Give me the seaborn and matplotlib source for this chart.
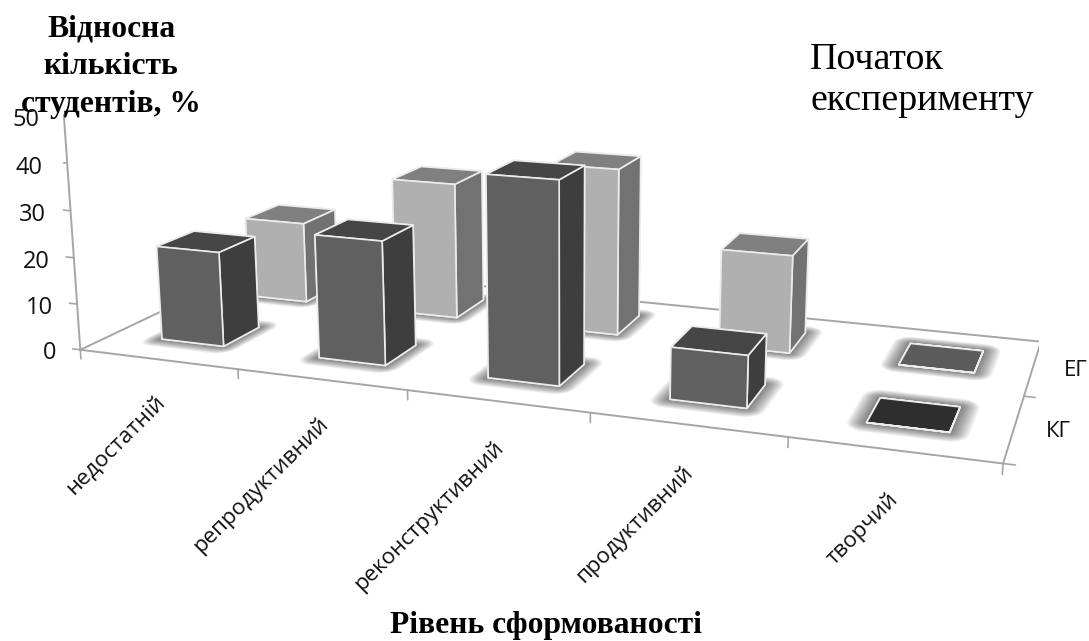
"""Рівень сформованості: bars drawn on a perspective 3D floor."""

import matplotlib
matplotlib.use("Agg")
import matplotlib.pyplot as plt
import numpy as np
import seaborn as sns
from mpl_toolkits.mplot3d import proj3d
from mpl_toolkits.mplot3d.art3d import Poly3DCollection

CATEGORIES = ["недостатній", "репродуктивний", "реконструктивний", "продуктивний", "творчий"]
KG_VALUES = [20.5, 26.2, 41.5, 10.5, 0]
EG_VALUES = [18.5, 30.5, 36.5, 21, 0]
Z_TICKS = [0, 10, 20, 30, 40, 50]

# front, side, top, empty bar
KG_COLORS = ["#606060", "#3e3e3e", "#464646", "#2e2e2e"]
EG_COLORS = ["#b0b0b0", "#727272", "#808080", "#5c5c5c"]
LINE = "#a6a6a6"
TEXT = "#111111"

sns.set_theme(style="white")
plt.rcParams["font.family"] = ["Open Sans", "DejaVu Sans"]
SERIF = ["Liberation Serif", "DejaVu Serif"]

fig = plt.figure(figsize=(10.89, 6.41), dpi=100)
ax = fig.add_axes([62.86 / 1089, -91.48 / 641, 976.49 / 1089, 976.49 / 641], projection="3d")
ax.set_xlim(0, 5)
ax.set_ylim(0, 2)
ax.set_zlim(0, 50)
ax.view_init(elev=13.652, azim=-69.96)
ax.set_proj_type("persp", focal_length=0.3225)
ax.set_box_aspect((1, 0.397, 0.2642))
ax.set_axis_off()
ax.patch.set_alpha(0)
ax.computed_zorder = False


def floor_halo(x0, y0, dx, dy, zorder):
    # soft shadow on the floor, stacked rounded outlines
    t = np.linspace(0, np.pi / 2, 8)
    for e in np.linspace(0.095, 0.004, 16):
        ex, ey = e, e * 1.4
        px = np.r_[x0 + dx + ex * np.cos(t), x0 - ex * np.sin(t), x0 - ex * np.cos(t), x0 + dx + ex * np.sin(t)]
        py = np.r_[y0 + dy + ey * np.sin(t), y0 + dy + ey * np.cos(t), y0 - ey * np.sin(t), y0 - ey * np.cos(t)]
        poly = Poly3DCollection([list(zip(px, py, np.zeros_like(px)))], facecolor="#000000",
                                edgecolor="none", alpha=0.04, zorder=zorder)
        ax.add_collection3d(poly)


def label(x, y, z, s, **kw):
    # text2D keeps its rotation, ax.text in 3D does not
    u, v, _ = proj3d.proj_transform(x, y, z, ax.get_proj())
    ax.text2D(u, v, s, transform=ax.transData, color=TEXT, zorder=9, **kw)


# floor and axis lines
ax.plot([0, 5, 5, 0, 0], [0, 0, 2, 2, 0], [0] * 5, color=LINE, lw=1.4, zorder=1)
ax.plot([0, 0], [0, 0], [0, 50], color=LINE, lw=1.4, zorder=1)
for i in range(6):
    ax.plot([i, i], [0, 0], [0, -2], color=LINE, lw=1.2, zorder=1)
for d in range(3):
    ax.plot([5, 5.055], [d, d], [0, 0], color=LINE, lw=1.2, zorder=1)
for z in Z_TICKS:
    ax.plot([0, -0.05], [0, 0], [z, z], color=LINE, lw=1.2, zorder=1)
    label(-0.16, 0, z - 1.4, str(z), ha="right", va="center", fontsize=17)

order = 3
for y_pos, vals, cols in [(1.3, EG_VALUES, EG_COLORS), (0.33, KG_VALUES, KG_COLORS)]:
    depth = 0.41 if y_pos > 1 else 0.39
    for i, v in enumerate(vals):
        floor_halo(i + 0.315, y_pos, 0.4, depth, order)
        order += 1
    for i, v in enumerate(vals):
        front, side, top, empty = cols
        if v == 0:
            top = empty
        faces = [top, top, front, front, side, side]
        ax.bar3d(i + 0.315, y_pos, 0, 0.4, depth, max(v, 0.01), color=faces, shade=False,
                 edgecolor="#ececec", linewidth=1.2, zorder=order)
        order += 1

for i, name in enumerate(CATEGORIES):
    label(i + 0.515, 0, -8.7, name, rotation=45, rotation_mode="anchor", ha="right", va="center", fontsize=16)
label(5.16, 1.5, 0, "ЕГ", ha="left", va="center", fontsize=16)
label(5.15, 0.5, 0, "КГ", ha="left", va="center", fontsize=16)

fig.text(111 / 1089, 1 - 37 / 641, "Відносна", family=SERIF, weight="bold", fontsize=22.7,
         ha="center", va="baseline", color="black")
fig.text(111 / 1089, 1 - 74 / 641, "кількість", family=SERIF, weight="bold", fontsize=22.7,
         ha="center", va="baseline", color="black")
fig.text(111 / 1089, 1 - 112 / 641, "студентів, %", family=SERIF, weight="bold", fontsize=22.7,
         ha="center", va="baseline", color="black")
fig.text(810 / 1089, 1 - 69 / 641, "Початок", family=SERIF, fontsize=27.3,
         ha="left", va="baseline", color="black")
fig.text(810 / 1089, 1 - 110 / 641, "експерименту", family=SERIF, fontsize=27.3,
         ha="left", va="baseline", color="black")
fig.text(546 / 1089, 1 - 633 / 641, "Рівень сформованості", family=SERIF, weight="bold", fontsize=22.7,
         ha="center", va="baseline", color="black")

fig.savefig("out.png", dpi=100)
